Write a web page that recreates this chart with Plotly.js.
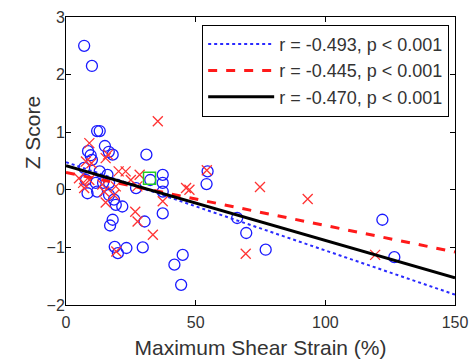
<!DOCTYPE html>
<html>
<head>
<meta charset="utf-8">
<script src="https://cdn.plot.ly/plotly-3.0.1.min.js"></script>
<style>html,body{margin:0;padding:0;background:#fff;}#chart{width:469px;height:364px;}</style>
</head>
<body>
<div id="chart"></div>
<script>
// Blue circles
const blueX = [7,10,12,13,8.5,9.5,10,15,16.5,18,31,7,13,16,7.7,11.5,16.6,8.3,12,16.6,18.5,19.2,21.7,18,17,18.8,23.3,29.6,20,27,32.5,37.3,37.3,37.3,37.3,30.3,41.8,45,44.4,54.6,54.2,66,69.5,77,122,126.6,14.3];
const blueY = [2.5,2.15,1.02,1.02,0.67,0.6,0.52,0.76,0.66,0.61,0.61,0.38,0.32,0.26,0.17,0.12,0.12,-0.06,-0.03,-0.09,-0.17,-0.26,-0.29,-0.52,-0.62,-0.99,-1.01,-1.0,-1.1,0.03,0.17,0.26,0.12,-0.03,-0.41,-0.55,-1.3,-1.13,-1.65,0.32,0.1,-0.49,-0.75,-1.04,-0.52,-1.17,0.12];
// Red crosses
const redX = [9,7.7,15.3,20.3,23,25,27.5,9,7,14,19.2,6.6,14.7,18.5,15.3,26.7,27.6,33.5,19.4,37.3,46.3,54.3,35.4,74.8,93.2,69.3,119.2,47.6,16.2,9.8,28.4,5];
const redY = [0.81,0.49,0.55,0.32,0.32,0.17,0.06,0.17,0.03,0.09,0.06,0.12,-0.03,-0.09,-0.22,-0.38,-0.55,-0.78,-1.07,-0.2,0.03,0.34,1.19,0.05,-0.16,-1.11,-1.13,0.0,0.61,0.46,0.26,0.2];
// Green square
const greenX = [32.2];
const greenY = [0.2];
// Regression lines
const fitX = [0, 150];
const blueFit = [0.48, -1.82];
const redFit = [0.30, -1.08];
const blackFit = [0.42, -1.53];
const legendLabels = ["r = -0.493, p < 0.001", "r = -0.445, p < 0.001", "r = -0.470, p < 0.001"];
const xTicks = [0, 50, 100, 150];
const yTicks = [-2, -1, 0, 1, 2, 3];
const xTitle = 'Maximum Shear Strain (%)';
const yTitle = 'Z Score';

const FONT = 'Liberation Sans, Arial, sans-serif';

const traces = [
  {x: blueX, y: blueY, type: 'scatter', mode: 'markers', showlegend: false,
   marker: {symbol: 'circle-open', size: 11, color: '#1a1aff', line: {width: 1.3, color: '#1a1aff'}}},
  {x: redX, y: redY, type: 'scatter', mode: 'markers', showlegend: false,
   marker: {symbol: 'x-thin-open', size: 10, color: '#ff3333', line: {width: 1.3, color: '#ff3333'}}},
  {x: greenX, y: greenY, type: 'scatter', mode: 'markers', showlegend: false,
   marker: {symbol: 'square-open', size: 12, color: '#22cc22', line: {width: 1.5, color: '#22cc22'}}},
  {x: fitX, y: blueFit, type: 'scatter', mode: 'lines', name: legendLabels[0], legendgroup: 'a',
   line: {color: '#2a2aff', width: 2, dash: 'dot'}},
  {x: fitX, y: redFit, type: 'scatter', mode: 'lines', name: legendLabels[1], legendgroup: 'b',
   line: {color: '#ff1a1a', width: 3, dash: 'dash'}},
  {x: fitX, y: blackFit, type: 'scatter', mode: 'lines', name: legendLabels[2], legendgroup: 'c',
   line: {color: '#000000', width: 3}}
];

const axisCommon = {
  showline: true, mirror: 'ticks', linecolor: '#000', linewidth: 1,
  ticks: 'inside', ticklen: 5, tickcolor: '#000', tickwidth: 1,
  showgrid: false, zeroline: false, ticklabeloverflow: 'allow',
  tickfont: {family: FONT, size: 16, color: '#333'}
};

const layout = {
  width: 469, height: 364,
  margin: {l: 66, r: 14, t: 17, b: 59},
  paper_bgcolor: '#fff', plot_bgcolor: '#fff',
  xaxis: Object.assign({}, axisCommon, {
    range: [0, 150], tickvals: xTicks, ticklabelstandoff: 3,
    title: {text: xTitle, standoff: 10, font: {family: FONT, size: 21, color: '#333'}}
  }),
  yaxis: Object.assign({}, axisCommon, {
    range: [-2, 3], tickvals: yTicks, ticklabelstandoff: -3
  }),
  annotations: [{
    text: yTitle, xref: 'paper', yref: 'paper', x: -0.087, y: 0.60,
    xanchor: 'center', yanchor: 'middle', textangle: -90, showarrow: false,
    font: {family: FONT, size: 21, color: '#333'}
  }],
  showlegend: true,
  legend: {
    x: 0.985, xanchor: 'right', y: 0.973, yanchor: 'top',
    bordercolor: '#000', borderwidth: 1, bgcolor: '#fff',
    traceorder: 'grouped', tracegroupgap: 0, itemwidth: 66,
    font: {family: FONT, size: 18, color: '#333'}
  }
};

Plotly.newPlot('chart', traces, layout, {displayModeBar: false, staticPlot: true});
</script>
</body>
</html>
